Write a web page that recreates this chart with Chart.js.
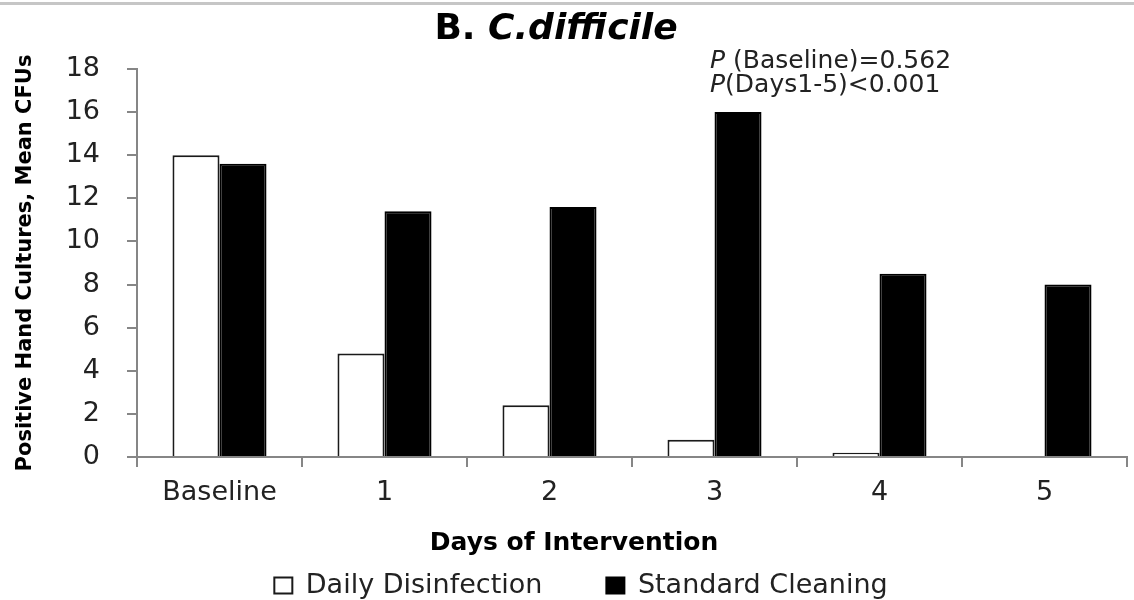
<!DOCTYPE html>
<html>
<head>
<meta charset="utf-8">
<script src="https://cdn.jsdelivr.net/npm/chart.js@4.4.0/dist/chart.umd.min.js"></script>
<style>
  html, body { margin: 0; padding: 0; background: #ffffff; }
  #wrap { position: relative; width: 1134px; height: 600px; overflow: hidden; }
  #c { position: absolute; left: 0; top: 0; }
  #topline { position: absolute; left: 0; top: 2px; width: 1134px; height: 3px; background: #c6c6c6; }
</style>
</head>
<body>
<div id="wrap">
  <canvas id="c" width="1134" height="600"></canvas>
  <div id="topline"></div>
</div>
<script>
// ---- data ----
const categories = ['Baseline', '1', '2', '3', '4', '5'];
const dailyDisinfection = [14.0, 4.8, 2.4, 0.8, 0.2, 0];
const standardCleaning = [13.6, 11.4, 11.6, 16.0, 8.5, 8.0];
const seriesNames = ['Daily Disinfection', 'Standard Cleaning'];
const yMin = 0;
const yMax = 18;
const yStep = 2;
const titleParts = ['B. ', 'C.difficile'];
const annotationLines = [['P', ' (Baseline)=0.562'], ['P', '(Days1-5)<0.001']];
const xAxisTitle = 'Days of Intervention';
const yAxisTitle = 'Positive Hand Cultures, Mean CFUs';

const FONT = '"DejaVu Sans", Verdana, sans-serif';
const AXIS_GRAY = '#868686';
const TEXT = '#222222';

const textPlugin = {
  id: 'extraTexts',
  afterDraw(chart) {
    const ctx = chart.ctx;
    ctx.save();
    ctx.textBaseline = 'alphabetic';
    ctx.textAlign = 'left';
    // chart title: "B." bold, "C.difficile" bold italic
    ctx.fillStyle = '#000000';
    ctx.font = 'bold 36px ' + FONT;
    const w1 = ctx.measureText(titleParts[0]).width;
    ctx.font = 'italic bold 36px ' + FONT;
    const w2 = ctx.measureText(titleParts[1]).width;
    const tx = 556 - (w1 + w2) / 2;
    ctx.font = 'bold 36px ' + FONT;
    ctx.fillText(titleParts[0], tx, 39);
    ctx.font = 'italic bold 36px ' + FONT;
    ctx.fillText(titleParts[1], tx + w1, 39);

    // P-value annotation
    ctx.fillStyle = TEXT;
    const ax = 710;
    const baselines = [68, 92];
    annotationLines.forEach((parts, i) => {
      ctx.font = 'italic 25px ' + FONT;
      const pw = ctx.measureText(parts[0]).width;
      ctx.fillText(parts[0], ax, baselines[i]);
      ctx.font = '25px ' + FONT;
      ctx.fillText(parts[1], ax + pw, baselines[i]);
    });

    // x axis title
    ctx.fillStyle = '#000000';
    ctx.font = 'bold 25px ' + FONT;
    ctx.textAlign = 'center';
    ctx.fillText(xAxisTitle, 574, 550);
    ctx.restore();
  }
};

new Chart(document.getElementById('c'), {
  type: 'bar',
  data: {
    labels: categories,
    datasets: [
      {
        label: seriesNames[0],
        data: dailyDisinfection,
        backgroundColor: '#ffffff',
        borderColor: '#1a1a1a',
        borderWidth: 2
      },
      {
        label: seriesNames[1],
        data: standardCleaning,
        backgroundColor: '#000000',
        borderColor: '#000000',
        borderWidth: 2
      }
    ]
  },
  options: {
    responsive: false,
    animation: false,
    devicePixelRatio: 1,
    datasets: { bar: { categoryPercentage: 0.57, barPercentage: 1.0 } },
    layout: { padding: { top: 69, left: 35, right: 7, bottom: -9 } },
    plugins: {
      tooltip: { enabled: false },
      title: { display: false },
      legend: {
        position: 'bottom',
        labels: {
          font: { family: FONT, size: 27 },
          color: TEXT,
          boxWidth: 18,
          boxHeight: 16,
          padding: 64
        }
      }
    },
    scales: {
      x: {
        grid: { drawOnChartArea: false, drawTicks: true, tickLength: 10, color: AXIS_GRAY, lineWidth: 2, offset: true },
        border: { color: AXIS_GRAY, width: 2 },
        ticks: { font: { family: FONT, size: 27 }, color: TEXT, padding: 10, maxRotation: 0, autoSkip: false },
        afterFit(scale) { scale.height = 51; }
      },
      y: {
        min: yMin,
        max: yMax,
        grid: { drawOnChartArea: false, drawTicks: true, tickLength: 10, color: AXIS_GRAY, lineWidth: 2 },
        border: { color: AXIS_GRAY, width: 2 },
        ticks: { stepSize: yStep, font: { family: FONT, size: 27 }, color: TEXT, padding: 27 },
        title: {
          display: true,
          text: yAxisTitle,
          font: { family: FONT, size: 21, weight: 'bold' },
          color: '#000000',
          padding: { top: -22, bottom: 0 }
        },
        afterFit(scale) { scale.width = 102; }
      }
    }
  },
  plugins: [textPlugin]
});
</script>
</body>
</html>
